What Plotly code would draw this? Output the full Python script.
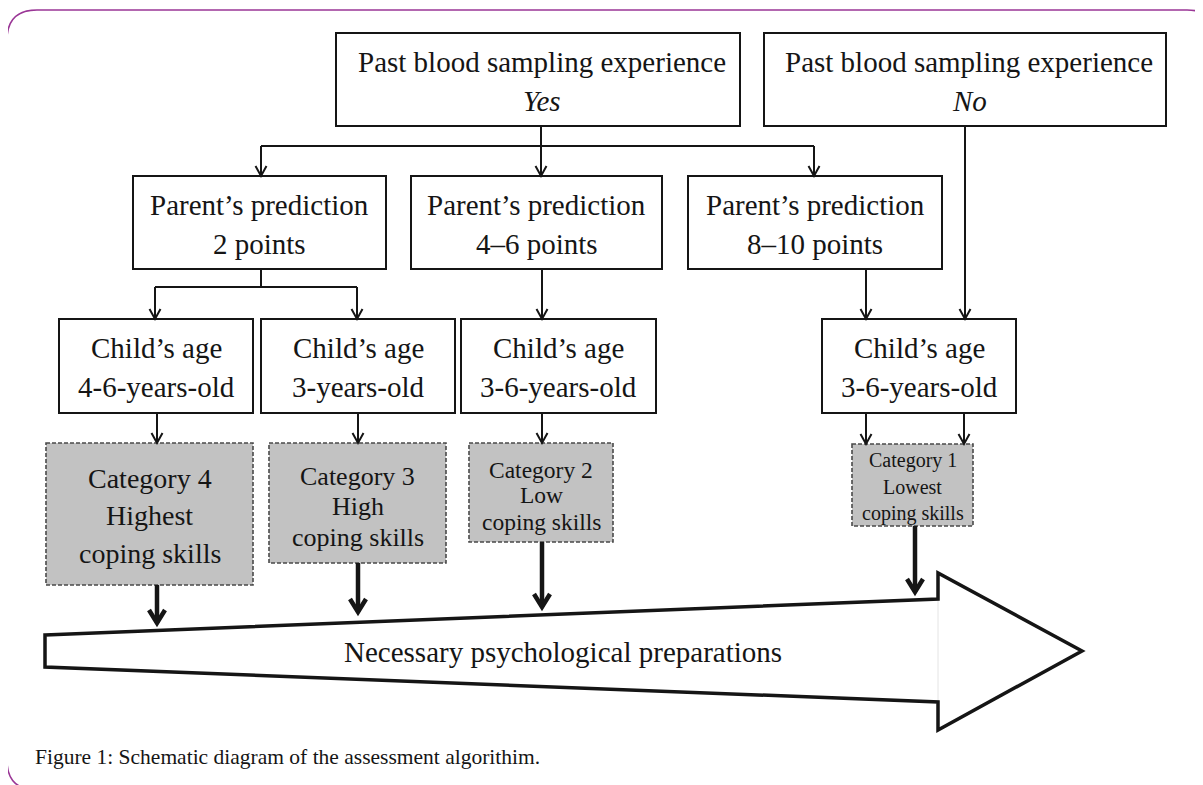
import plotly.graph_objects as go

# ---------------- data (texts) ----------------
decision_titles = ["Past blood sampling experience", "Past blood sampling experience"]
decision_answers = ["Yes", "No"]
prediction_titles = ["Parent\u2019s prediction", "Parent\u2019s prediction", "Parent\u2019s prediction"]
prediction_values = ["2 points", "4\u20136 points", "8\u201310 points"]
age_titles = ["Child\u2019s age", "Child\u2019s age", "Child\u2019s age", "Child\u2019s age"]
age_values = ["4-6-years-old", "3-years-old", "3-6-years-old", "3-6-years-old"]
category_names = ["Category 4", "Category 3", "Category 2", "Category 1"]
category_levels = ["Highest", "High", "Low", "Lowest"]
category_suffix = ["coping skills", "coping skills", "coping skills", "coping skills"]
outcome_label = "Necessary psychological preparations"
caption = "Figure 1: Schematic diagram of the assessment algorithim."

# ---------------- geometry (layout, pixels) ----------------
W, H = 1203, 785
PAGE_OFFSET = 8  # default body margin of the page
decision_boxes = [(336, 740, 33, 126), (764, 1166, 33, 126)]
decision_text_y = (62, 101)
prediction_boxes = [(133, 386, 176, 269), (411, 662, 176, 269), (688, 942, 176, 269)]
prediction_text_y = (205, 244)
age_boxes = [(59, 253, 319, 413), (261, 455, 319, 413), (461, 656, 319, 413), (822, 1016, 319, 413)]
age_text_y = (348, 387)
category_boxes = [(46, 253, 443, 585), (269, 446, 443, 563), (469, 613, 443, 542), (852, 973, 444, 526)]
category_text_y = [(478, 515, 553), (476, 506, 537), (470, 495, 522), (460, 487, 513)]
category_font = [28, 26, 23.5, 20]
box_font = 29

INK = "#151515"
FONT = "Liberation Serif"

fig = go.Figure()
shapes = []
annots = []


def rect(x0, x1, y0, y1, fill="white", dash="solid", color=INK, width=2):
    shapes.append(dict(type="rect", xref="x", yref="y", x0=x0, x1=x1, y0=y0, y1=y1,
                       fillcolor=fill, line=dict(color=color, width=width, dash=dash), layer="above"))


def line(x0, y0, x1, y1, width=2, color=INK):
    shapes.append(dict(type="line", xref="x", yref="y", x0=x0, y0=y0, x1=x1, y1=y1,
                       line=dict(color=color, width=width), layer="above"))


def arrow(x, y0, y1, width=2, hw=5.5, hl=10):
    line(x, y0, x, y1, width)
    path = f"M {x-hw},{y1-hl} L {x},{y1} L {x+hw},{y1-hl}"
    shapes.append(dict(type="path", xref="x", yref="y", path=path,
                       line=dict(color=INK, width=width), layer="above"))


def text(x, y, s, size, italic=False, anchor="center"):
    annots.append(dict(x=x, y=y, xref="x", yref="y", text=s, showarrow=False,
                       xanchor=anchor, yanchor="middle",
                       font=dict(family=FONT, size=size, color=INK,
                                 style="italic" if italic else "normal")))


# outer purple frame (rounded)
r = 30
fx0, fx1, fy0, fy1 = 7, 1217, 10, 790
frame = (f"M {fx0+r},{fy0} L {fx1-r},{fy0} Q {fx1},{fy0} {fx1},{fy0+r} "
         f"L {fx1},{fy1-r} Q {fx1},{fy1} {fx1-r},{fy1} L {fx0+r},{fy1} "
         f"Q {fx0},{fy1} {fx0},{fy0+r} " if False else
         f"M {fx0+r},{fy0} L {fx1-r},{fy0} Q {fx1},{fy0} {fx1},{fy0+r} "
         f"L {fx1},{fy1-r} Q {fx1},{fy1} {fx1-r},{fy1} L {fx0+r},{fy1} "
         f"Q {fx0},{fy1} {fx0},{fy1-r} L {fx0},{fy0+r} Q {fx0},{fy0} {fx0+r},{fy0} Z")
shapes.append(dict(type="path", xref="x", yref="y", path=frame,
                   line=dict(color="#9a3696", width=1.5), layer="below"))
line(360, 0.8, 1211, 0.8, width=1.5, color="#9a3696")

# decision boxes
for (x0, x1, y0, y1), t, a in zip(decision_boxes, decision_titles, decision_answers):
    rect(x0, x1, y0, y1)
    cx = (x0 + x1) / 2
    text(cx + 4, decision_text_y[0], t, box_font)
    text(cx + 4, decision_text_y[1], a, box_font, italic=True)

# prediction boxes
for (x0, x1, y0, y1), t, v in zip(prediction_boxes, prediction_titles, prediction_values):
    rect(x0, x1, y0, y1)
    cx = (x0 + x1) / 2
    text(cx, prediction_text_y[0], t, box_font)
    text(cx, prediction_text_y[1], v, box_font)

# age boxes
for (x0, x1, y0, y1), t, v in zip(age_boxes, age_titles, age_values):
    rect(x0, x1, y0, y1)
    cx = (x0 + x1) / 2
    text(cx, age_text_y[0], t, box_font)
    text(cx, age_text_y[1], v, box_font)

# category boxes
for (x0, x1, y0, y1), n, l, s, ys, fs in zip(category_boxes, category_names, category_levels,
                                           category_suffix, category_text_y, category_font):
    rect(x0, x1, y0, y1, fill="#c2c2c2", dash="4px,2px", color="#4a4a4a", width=1.6)
    cx = (x0 + x1) / 2
    text(cx, ys[0], n, fs)
    text(cx, ys[1], l, fs)
    text(cx, ys[2], s, fs)

# connectors: Yes branch
line(541, 126, 541, 146)
line(261, 146, 814, 146)
for x in (261, 541, 814):
    arrow(x, 146, 176)
# No branch
arrow(965, 126, 319)
# predictions -> ages
line(261, 269, 261, 287)
line(155, 287, 357, 287)
arrow(155, 287, 319)
arrow(357, 287, 319)
arrow(542, 269, 319)
arrow(866, 269, 319)
# ages -> categories
arrow(157, 413, 443)
arrow(358, 413, 443)
arrow(542, 413, 443)
arrow(866, 413, 444)
arrow(964, 413, 444)
# categories -> big arrow (thick)
for x, y0, y1 in [(157, 585, 623), (358, 563, 612), (542, 542, 607), (915, 526, 592)]:
    arrow(x, y0, y1, width=4.5, hw=8, hl=13)

# big block arrow
big = "M 45,635 L 938,599 L 938,573 L 1082,651 L 938,730 L 938,702 L 45,667 Z"
shapes.append(dict(type="path", xref="x", yref="y", path=big, fillcolor="white",
                   line=dict(color=INK, width=3.5), layer="above"))
line(938, 601, 938, 700, width=1, color="#e4e4e4")
text(563, 652, outcome_label, 29)

# caption
text(33, 757, caption, 21.5, anchor="left")

fig.update_layout(
    width=W, height=H, margin=dict(l=0, r=0, t=0, b=0),
    paper_bgcolor="white", plot_bgcolor="white",
    xaxis=dict(range=[PAGE_OFFSET, W + PAGE_OFFSET], visible=False, fixedrange=True),
    yaxis=dict(range=[H + PAGE_OFFSET, PAGE_OFFSET], visible=False, fixedrange=True),
    shapes=shapes, annotations=annots, showlegend=False,
)
fig.write_html("out.html")
